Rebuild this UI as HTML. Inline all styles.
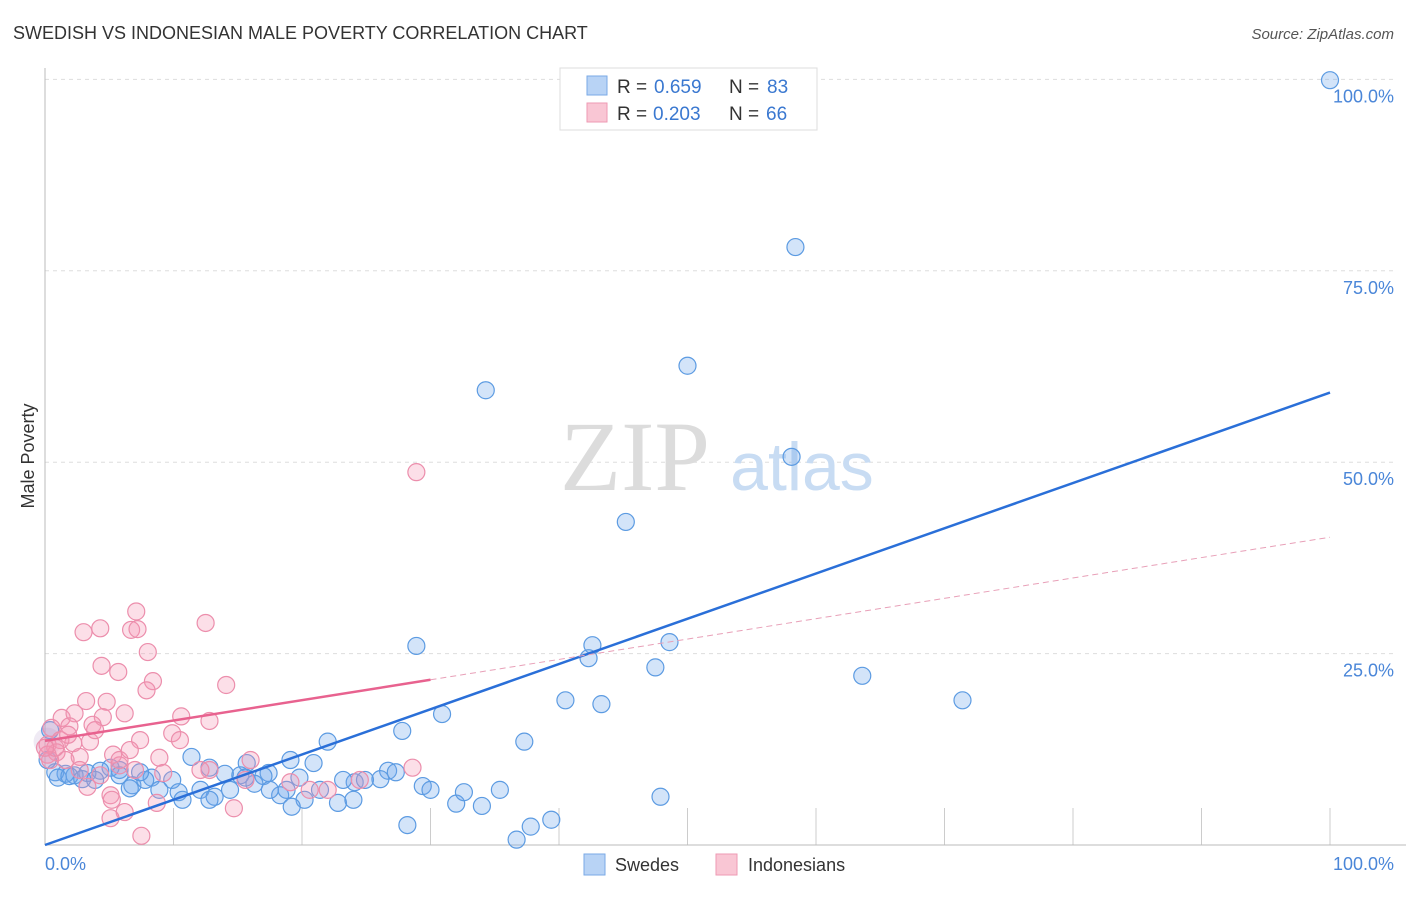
<!DOCTYPE html>
<html><head><meta charset="utf-8"><style>
body{margin:0;background:#fff;font-family:"Liberation Sans",sans-serif;}
</style></head><body>
<svg width="1406" height="892" style="font-family:'Liberation Sans',sans-serif">
<text x="13" y="39" font-size="18" fill="#333">SWEDISH VS INDONESIAN MALE POVERTY CORRELATION CHART</text>
<text x="1394" y="39" font-size="15" fill="#555" font-style="italic" text-anchor="end">Source: ZipAtlas.com</text>
<g id="grid"></g>
<text x="635" y="490" font-size="100" fill="#dcdcdc" style="font-family:'Liberation Serif',serif" text-anchor="middle">ZIP</text>
<text x="802" y="490" font-size="68" fill="#c8dcf3" text-anchor="middle">atlas</text>
<line x1="45" y1="68" x2="45" y2="845" stroke="#bbb"/>
<line x1="45" y1="845" x2="1406" y2="845" stroke="#bbb"/>
<text x="34" y="456" font-size="18" fill="#333" transform="rotate(-90 34 456)" text-anchor="middle">Male Poverty</text>
<text x="45" y="870" font-size="18" fill="#4a86d8">0.0%</text>
<text x="1394" y="870" font-size="18" fill="#4a86d8" text-anchor="end">100.0%</text>
<g id="pts"></g>
<g id="trends"></g>
<g>
<rect x="560" y="68" width="257" height="62" fill="#fff" stroke="#ddd"/>
<rect x="587" y="76" width="20" height="19" fill="#b8d3f5" stroke="#7aaae6"/>
<rect x="587" y="103" width="20" height="19" fill="#f9c6d4" stroke="#ee9ab3"/>
<text y="93" font-size="19" fill="#333"><tspan x="617">R =</tspan><tspan x="654" fill="#3a78d0">0.659</tspan><tspan x="729">N =</tspan><tspan x="767" fill="#3a78d0">83</tspan></text>
<text y="120" font-size="19" fill="#333"><tspan x="617">R =</tspan><tspan x="653" fill="#3a78d0">0.203</tspan><tspan x="729">N =</tspan><tspan x="766" fill="#3a78d0">66</tspan></text>
</g>
<g><rect x="584" y="854" width="21" height="21" fill="#b8d3f5" stroke="#7aaae6"/><text x="615" y="871" font-size="18" fill="#333">Swedes</text></g>
<g><rect x="716" y="854" width="21" height="21" fill="#f9c6d4" stroke="#ee9ab3"/><text x="748" y="871" font-size="18" fill="#333">Indonesians</text></g>
</svg>
<script>
const yTicks=[25,50,75,100];
const yTickLabels=["25.0%","50.0%","75.0%","100.0%"];
const xTicks=[10,20,30,40,50,60,70,80,90,100];
const blueX=[100,58.4,50.0,34.3,58.1,45.2,28.9,42.6,42.3,48.6,47.5,63.6,71.4,40.5,43.3,30.9,27.8,37.3,22.0,11.4,15.7,20.9,12.8,17.4,14.0,15.2,17.0,26.7,26.1,19.8,24.1,8.3,9.9,6.8,7.8,5.8,5.1,4.3,3.3,2.3,1.6,0.8,1.0,1.9,2.9,3.9,6.6,8.9,10.4,12.1,13.2,14.4,16.3,18.3,18.8,20.2,19.2,21.4,22.8,24.0,24.9,27.3,29.4,30.0,32.0,32.6,34.0,35.4,28.2,37.8,36.7,39.4,47.9,10.7,7.4,19.1,23.2,0.2,0.4,5.8,12.8,15.6,17.5];
const blueY=[99.9,78.1,62.6,59.4,50.7,42.2,26.0,26.1,24.4,26.5,23.2,22.1,18.9,18.9,18.4,17.1,14.9,13.5,13.5,11.5,10.7,10.7,10.1,9.4,9.3,9.1,9.0,9.7,8.6,8.8,8.2,8.8,8.5,7.8,8.5,9.8,10.1,9.7,9.4,9.1,9.3,9.5,8.8,9.0,8.6,8.5,7.4,7.2,6.9,7.2,6.3,7.2,8.0,6.5,7.2,5.9,5.0,7.2,5.5,5.9,8.5,9.5,7.7,7.2,5.4,6.9,5.1,7.2,2.6,2.4,0.7,3.3,6.3,5.9,9.5,11.1,8.5,11.1,15.0,9.1,5.9,8.8,7.2];
const pinkX=[28.9,7.1,12.5,3.0,4.3,6.7,7.2,8.0,4.4,14.1,5.7,8.4,7.9,3.2,4.8,10.6,12.8,6.2,4.5,1.3,2.3,3.7,0.5,2.2,0.2,1.2,0.9,3.5,3.9,5.3,2.7,7.4,9.9,8.9,0.2,0.4,9.2,5.8,7.0,12.8,15.6,28.6,22.0,19.1,3.3,5.1,5.2,8.7,6.2,7.5,14.7,5.1,2.7,4.3,1.6,0.8,1.9,5.8,10.5,12.1,16.0,20.6,24.5,1.8,0,6.6];
const pinkY=[48.7,30.5,29.0,27.8,28.3,28.1,28.2,25.2,23.4,20.9,22.6,21.4,20.2,18.8,18.7,16.8,16.2,17.2,16.7,16.6,17.2,15.7,15.3,13.3,13.1,13.7,12.1,13.5,15.0,11.8,11.5,13.7,14.6,11.4,11.8,11.1,9.4,10.4,9.8,9.8,8.5,10.1,7.2,8.2,7.6,6.5,5.9,5.5,4.3,1.2,4.8,3.5,9.8,9.1,11.1,12.7,15.5,11.1,13.7,9.8,11.1,7.2,8.5,14.4,12.7,12.4];
const blueTrend=[0,59.1];
const pinkTrend=[13.6,40.2];
const pinkSolidEnd=30;
const NS="http://www.w3.org/2000/svg";
const sx=v=>45+v*12.85, sy=v=>845-v*7.656;
function mk(t,a,p){const e=document.createElementNS(NS,t);for(const k in a)e.setAttribute(k,a[k]);p.appendChild(e);return e;}
const grid=document.getElementById('grid');
yTicks.forEach((v,i)=>{
 const l=mk('line',{x1:45,x2:1394,y1:sy(v),y2:sy(v),stroke:'#ddd','stroke-dasharray':'4 4'},grid);
 
 
 const t=mk('text',{x:1394,y:sy(v)+23,'font-size':18,fill:'#4a86d8','text-anchor':'end'},grid);
 t.textContent=yTickLabels[i];
 
 
});
xTicks.forEach(v=>{
 const l=mk('line',{x1:sx(v),x2:sx(v),y1:808,y2:845,stroke:'#ccc'},grid);
 
 
});
const pts=document.getElementById('pts');
const b0=mk('circle',{cx:sx(0.2),cy:sy(13.5),r:14,fill:'rgba(190,170,210,0.25)',stroke:'none'},pts);


blueX.forEach((x,i)=>{
 const c=mk('circle',{cx:sx(x),cy:sy(blueY[i]),r:8.5,fill:'rgba(110,165,235,0.3)',stroke:'#5c9be2','stroke-width':1.2},pts);
 
 
});
pinkX.forEach((x,i)=>{
 const c=mk('circle',{cx:sx(x),cy:sy(pinkY[i]),r:8.5,fill:'rgba(245,150,180,0.3)',stroke:'#ec8eac','stroke-width':1.2},pts);
 
 
});
const tr=document.getElementById('trends');
const pAt=x=>pinkTrend[0]+(pinkTrend[1]-pinkTrend[0])*x/100;
const bl=mk('line',{x1:sx(0),y1:sy(blueTrend[0]),x2:sx(100),y2:sy(blueTrend[1]),stroke:'#2a6fd8','stroke-width':2.5},tr);


const pl=mk('line',{x1:sx(0),y1:sy(pAt(0)),x2:sx(pinkSolidEnd),y2:sy(pAt(pinkSolidEnd)),stroke:'#e8628f','stroke-width':2.5},tr);


const pd=mk('line',{x1:sx(pinkSolidEnd),y1:sy(pAt(pinkSolidEnd)),x2:sx(100),y2:sy(pAt(100)),stroke:'#e8a0b8','stroke-width':1,'stroke-dasharray':'6 4'},tr);


</script>
</body></html>
